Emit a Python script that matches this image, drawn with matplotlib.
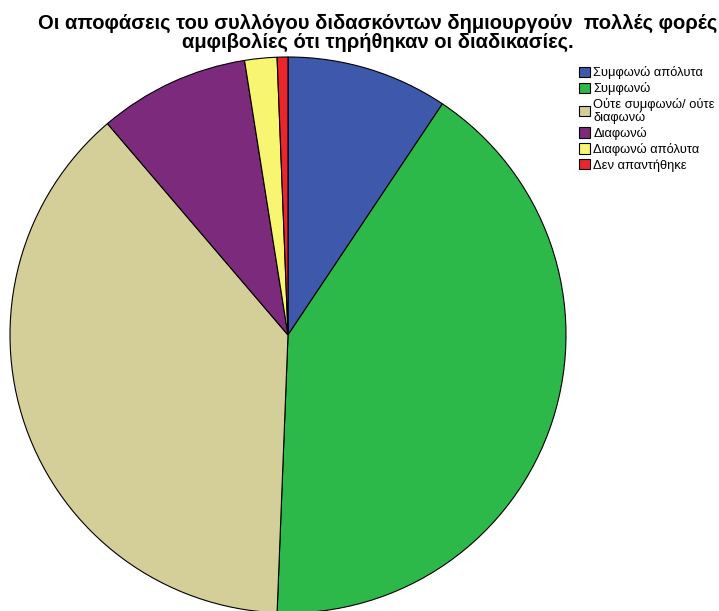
import matplotlib.pyplot as plt

# Responses (counts) per answer category, clockwise from 12 o'clock
labels = [
    "Συμφωνώ απόλυτα",
    "Συμφωνώ",
    "Ούτε συμφωνώ/ ούτε\nδιαφωνώ",
    "Διαφωνώ",
    "Διαφωνώ απόλυτα",
    "Δεν απαντήθηκε",
]
counts = [15, 66, 61, 14, 3, 1]
colors = ["#3E58AC", "#2DB84A", "#D4CE98", "#7B2A7C", "#F8F571", "#E8262B"]

title = ("Οι αποφάσεις του συλλόγου διδασκόντων δημιουργούν  πολλές φορές\n"
         "αμφιβολίες ότι τηρήθηκαν οι διαδικασίες.")

plt.rcParams["font.family"] = ["Liberation Sans", "DejaVu Sans"]

W, H = 719, 611
fig = plt.figure(figsize=(W / 100, H / 100), dpi=100)

# pie centred at (288, 335) px with radius 278 px
cx, cy, r = 288, 335, 278
ax = fig.add_axes([(cx - r) / W, (H - cy - r) / H, 2 * r / W, 2 * r / H])
wedges, _ = ax.pie(
    counts,
    colors=colors,
    startangle=90,
    counterclock=False,
    radius=1,
    wedgeprops=dict(edgecolor="black", linewidth=0.8),
)
ax.set_xlim(-1, 1)
ax.set_ylim(-1, 1)
ax.set_aspect("auto")
ax.axis("off")

fig.text(378 / W, 1 - 14 / H, title, ha="center", va="top",
         fontsize=14.5, fontweight="bold", linespacing=0.98)

leg = fig.legend(
    wedges, labels,
    loc="upper left", bbox_to_anchor=(574 / W, 1 - 61 / H),
    frameon=False, fontsize=9.3,
    handlelength=0.85, handleheight=0.85, handletextpad=0.25,
    labelspacing=0.24, borderaxespad=0,
)
for h in leg.legend_handles:
    h.set_edgecolor("black")
    h.set_linewidth(0.8)
for t in leg.get_texts():
    t.set_linespacing(0.95)

fig.savefig("out.png", dpi=100)
